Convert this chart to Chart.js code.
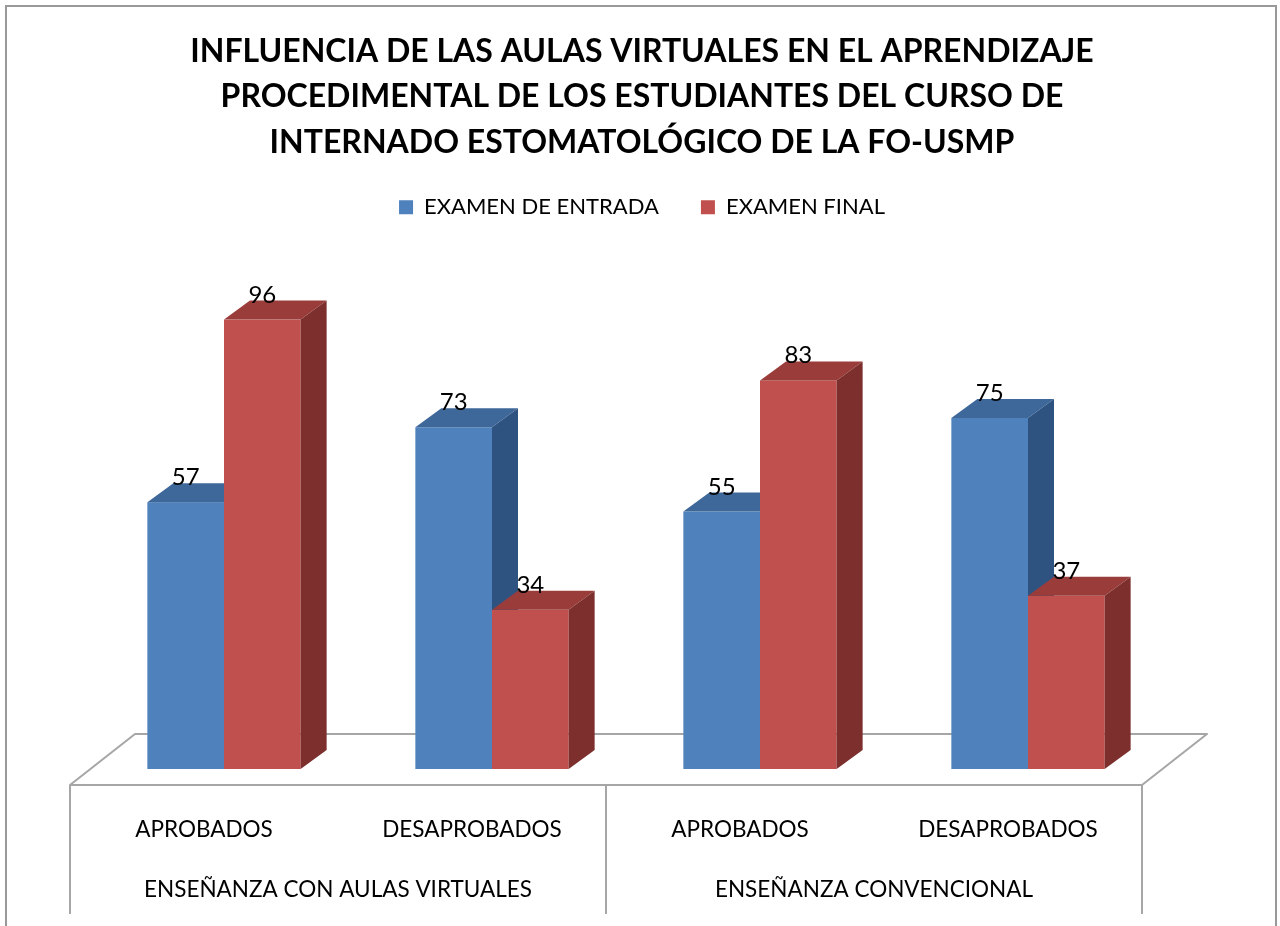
<!DOCTYPE html>
<html>
<head>
<meta charset="utf-8">
<script src="https://cdn.jsdelivr.net/npm/chart.js@4/dist/chart.umd.min.js"></script>
<style>
  html, body { margin: 0; padding: 0; background: #fff; }
  #wrap { width: 1280px; height: 926px; position: relative; }
</style>
</head>
<body>
<div id="wrap"><canvas id="c" width="1280" height="926"></canvas></div>
<script>
const titleLines = [
  'INFLUENCIA DE LAS AULAS VIRTUALES EN EL APRENDIZAJE',
  'PROCEDIMENTAL DE LOS ESTUDIANTES DEL CURSO DE',
  'INTERNADO ESTOMATOLÓGICO DE LA FO-USMP'
];
const categories = ['APROBADOS', 'DESAPROBADOS', 'APROBADOS', 'DESAPROBADOS'];
const groups = ['ENSEÑANZA CON AULAS VIRTUALES', 'ENSEÑANZA CONVENCIONAL'];
const seriesNames = ['EXAMEN DE ENTRADA', 'EXAMEN FINAL'];
const examenEntrada = [57, 73, 55, 75];
const examenFinal = [96, 34, 83, 37];

const FRONT = ['#4F81BD', '#C0504D'];
const TOPC = ['#3D6899', '#9A3D3A'];
const SIDE = ['#2F5381', '#7C2F2D'];
const DX = 26, DY = -19;          // bar depth
const OFX = -20, OFY = 16;        // bar plane -> front plane of floor
const FLX = 65, FLY = -51;        // floor depth
const LABEL_FONT = '22.5px Lato';

const threeD = {
  id: 'threeD',
  beforeDatasetsDraw(chart) {
    const ctx = chart.ctx;
    const xs = chart.scales.x;
    const n = categories.length;
    const half = (xs.getPixelForValue(1) - xs.getPixelForValue(0)) / 2;
    const base = chart.scales.y.getPixelForValue(0);
    const fl = xs.getPixelForValue(0) - half + OFX;
    const fr = xs.getPixelForValue(n - 1) + half + OFX;
    const fy = base + OFY;
    ctx.save();
    ctx.beginPath();
    ctx.moveTo(fl, fy);
    ctx.lineTo(fl + FLX, fy + FLY);
    ctx.lineTo(fr + FLX, fy + FLY);
    ctx.lineTo(fr, fy);
    ctx.closePath();
    ctx.fillStyle = '#ffffff';
    ctx.fill();
    ctx.strokeStyle = '#A6A6A6';
    ctx.lineWidth = 2;
    ctx.lineJoin = 'round';
    ctx.stroke();
    ctx.restore();

    const metas = [chart.getDatasetMeta(0), chart.getDatasetMeta(1)];
    for (let i = 0; i < n; i++) {
      for (let d = 0; d < 2; d++) {
        const el = metas[d].data[i];
        const p = el.getProps(['x', 'y', 'base', 'width'], true);
        const l = p.x - p.width / 2, r = p.x + p.width / 2;
        const t = p.y, b = p.base;
        ctx.save();
        ctx.fillStyle = FRONT[d];
        ctx.fillRect(l, t, r - l, b - t);
        ctx.beginPath();
        ctx.moveTo(l, t); ctx.lineTo(l + DX, t + DY); ctx.lineTo(r + DX, t + DY); ctx.lineTo(r, t); ctx.closePath();
        ctx.fillStyle = TOPC[d]; ctx.fill();
        ctx.beginPath();
        ctx.moveTo(r, t); ctx.lineTo(r + DX, t + DY); ctx.lineTo(r + DX, b + DY); ctx.lineTo(r, b); ctx.closePath();
        ctx.fillStyle = SIDE[d]; ctx.fill();
        ctx.restore();
      }
    }
    ctx.save();
    ctx.fillStyle = '#000';
    ctx.font = '24px Lato';
    ctx.textAlign = 'center';
    ctx.textBaseline = 'alphabetic';
    for (let i = 0; i < n; i++) {
      for (let d = 0; d < 2; d++) {
        const el = metas[d].data[i];
        const v = chart.data.datasets[d].data[i];
        ctx.fillText(String(v), el.x, el.y + DY + 2);
      }
    }
    ctx.restore();
    return false;
  },
  afterDraw(chart) {
    const ctx = chart.ctx;
    const xs = chart.scales.x;
    const n = categories.length;
    const half = (xs.getPixelForValue(1) - xs.getPixelForValue(0)) / 2;
    const base = chart.scales.y.getPixelForValue(0);
    const fy = base + OFY;
    const yEnd = 914;
    const xsV = [
      xs.getPixelForValue(0) - half + OFX,
      xs.getPixelForValue(1) + half + OFX,
      xs.getPixelForValue(n - 1) + half + OFX
    ];
    ctx.save();
    ctx.strokeStyle = '#A6A6A6';
    ctx.lineWidth = 2;
    xsV.forEach(x => { ctx.beginPath(); ctx.moveTo(x, fy); ctx.lineTo(x, yEnd); ctx.stroke(); });
    ctx.fillStyle = '#000';
    ctx.font = LABEL_FONT;
    ctx.textAlign = 'center';
    ctx.textBaseline = 'middle';
    for (let g = 0; g < groups.length; g++) {
      const cx = (xs.getPixelForValue(2 * g) + xs.getPixelForValue(2 * g + 1)) / 2 + OFX;
      ctx.fillText(groups[g], cx, 890);
    }
    // outer border
    ctx.strokeStyle = '#999999';
    ctx.lineWidth = 2;
    ctx.beginPath();
    ctx.moveTo(6, 930); ctx.lineTo(6, 6); ctx.lineTo(1276, 6); ctx.lineTo(1276, 930);
    ctx.stroke();
    ctx.restore();
  }
};

new Chart(document.getElementById('c'), {
  type: 'bar',
  data: {
    labels: categories,
    datasets: [
      { label: seriesNames[0], data: examenEntrada, backgroundColor: FRONT[0] },
      { label: seriesNames[1], data: examenFinal, backgroundColor: FRONT[1] }
    ]
  },
  options: {
    responsive: false,
    animation: false,
    events: [],
    layout: { padding: { left: 4, right: 0, top: 0, bottom: 0 } },
    datasets: { bar: { categoryPercentage: 0.572, barPercentage: 1 } },
    plugins: {
      title: {
        display: true,
        text: titleLines,
        color: '#000',
        font: { family: 'Lato', size: 32, weight: 'bold', lineHeight: 1.42 },
        padding: { top: 29, bottom: -11 }
      },
      legend: {
        display: true,
        position: 'top',
        labels: {
          boxWidth: 14, boxHeight: 14, padding: 42,
          color: '#000',
          font: { family: 'Lato', size: 22 }
        }
      },
      tooltip: { enabled: false }
    },
    scales: {
      x: {
        grid: { display: false, drawTicks: false },
        border: { display: false },
        ticks: { color: '#000', font: { family: 'Lato', size: 22.5 }, labelOffset: OFX, padding: 47 },
        afterFit(s) { s.height = 157; }
      },
      y: {
        position: 'left',
        min: 0, max: 115.5,
        grid: { display: false, drawTicks: false },
        border: { display: false },
        ticks: { display: false },
        afterFit(s) { s.width = 86; }
      },
      yRight: {
        position: 'right',
        min: 0, max: 115.5,
        grid: { display: false, drawTicks: false },
        border: { display: false },
        ticks: { display: false },
        afterFit(s) { s.width = 118; }
      }
    }
  },
  plugins: [threeD]
});
</script>
</body>
</html>
